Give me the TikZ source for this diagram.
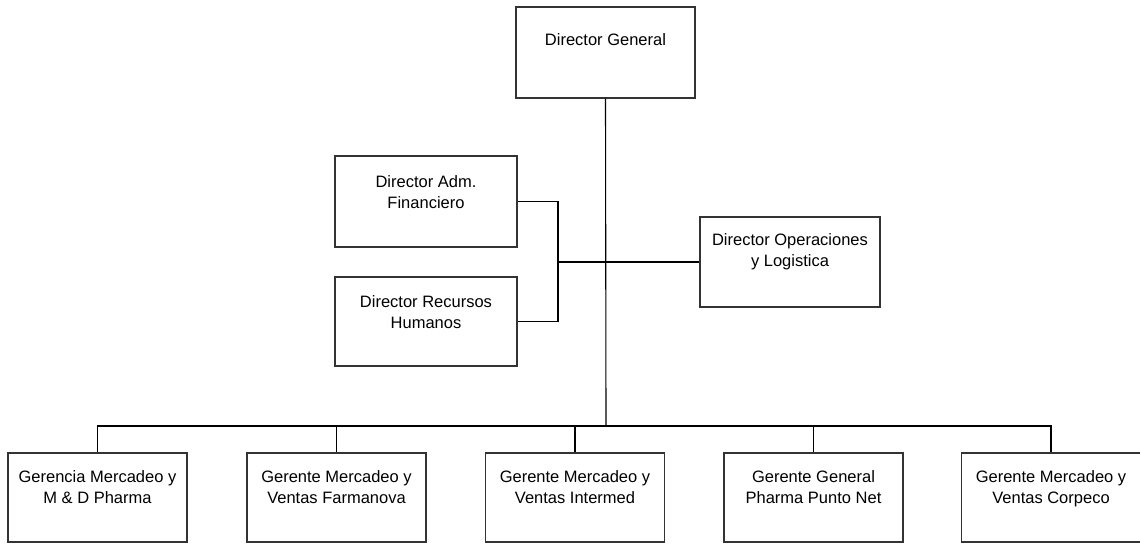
\documentclass[tikz,border=0pt]{standalone}
\usepackage{fontspec}
\setmainfont{Liberation Sans}
\begin{document}
\begin{tikzpicture}[x=1pt,y=-1pt,
  box/.style={draw=black!80, line width=1.4pt, rectangle, inner sep=0pt},
  lbl/.style={anchor=north, inner sep=0pt, align=center, font=\fontsize{16.5}{21}\selectfont},
  wire/.style={draw=black, line width=1.1pt}]
\useasboundingbox (0,0) rectangle (1140,544);
% top level
\node[box, minimum width=179pt, minimum height=91pt] (dg) at (605.5,52.5) {};
\node[lbl, yshift=-27pt] (dgt) at (dg.north) {Director General};
% staff
\node[box, minimum width=182pt, minimum height=91pt] (fin) at (426,201.5) {};
\node[lbl, yshift=-20pt] (fint) at (fin.north) {Director Adm.\\Financiero};
\node[box, minimum width=182pt, minimum height=89pt] (rh) at (426,321.5) {};
\node[lbl, yshift=-19pt] (rht) at (rh.north) {Director Recursos\\Humanos};
\node[box, minimum width=180pt, minimum height=90pt] (ops) at (790,262) {};
\node[lbl, yshift=-17pt] (opst) at (ops.north) {Director Operaciones\\y Logistica};
% bottom level
\foreach \n/\x in {g1/97.5,g2/336.5,g3/575,g4/813.5,g5/1051}
  \node[box, minimum width=179pt, minimum height=89pt] (\n) at (\x,497.5) {};
\node[lbl, yshift=-18pt] at (g1.north) {Gerencia Mercadeo y\\M \& D Pharma};
\node[lbl, yshift=-18pt] at (g2.north) {Gerente Mercadeo y\\Ventas Farmanova};
\node[lbl, yshift=-18pt] at (g3.north) {Gerente Mercadeo y\\Ventas Intermed};
\node[lbl, yshift=-18pt] at (g4.north) {Gerente General\\Pharma Punto Net};
\node[lbl, yshift=-18pt] at (g5.north) {Gerente Mercadeo y\\Ventas Corpeco};
% connectors
\coordinate (hub) at (606,426);
\coordinate (br) at (558,262);
\draw[wire] (dg.south) -- (hub);
\draw[wire] (fin.east) -| (br) |- (rh.east);
\draw[wire] (br) -- (ops.west);
\draw[wire] (g1.north) |- (hub) -| (g5.north);
\foreach \n in {g2,g3,g4} \draw[wire] (\n.north) -- (\n.north |- hub);
\end{tikzpicture}
\end{document}
